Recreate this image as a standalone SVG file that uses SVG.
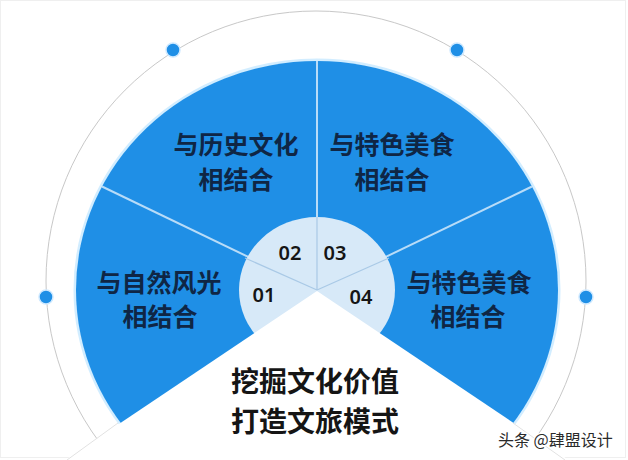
<svg xmlns="http://www.w3.org/2000/svg" width="628" height="460" viewBox="0 0 628 460">
<style>
.lbl{font-family:"Noto Sans CJK SC","Noto Sans",sans-serif;font-size:25px;font-weight:700;fill:#0f2645;text-anchor:middle}
.num{font-family:"Noto Sans","Noto Sans CJK SC",sans-serif;font-size:20px;font-weight:600;fill:#151515;text-anchor:middle}
.ctr{font-family:"Noto Sans CJK SC","Noto Sans",sans-serif;font-size:28px;font-weight:700;fill:#151515;text-anchor:middle}
.wm{font-family:"Noto Sans CJK SC","Noto Sans",sans-serif;font-size:16px;fill:#2a2a2a;stroke:#ffffff;stroke-width:3;paint-order:stroke;stroke-linejoin:round}
.dot{fill:#1f8fe6;stroke:#cfe9ff;stroke-width:1.5}
.div{stroke:#b8dcf8;stroke-width:2;fill:none}
.idiv{stroke:#a9c9e6;stroke-width:1.2;fill:none}
</style>
<rect x="0" y="0" width="628" height="460" fill="#ffffff"/>
<rect x="0.5" y="0.5" width="625" height="457" fill="none" stroke="#efefef" stroke-width="1"/>
<g id="ring">
<circle cx="316" cy="281" r="270" fill="none" stroke="#c8c8c8" stroke-width="1"/>
</g>
<g id="fan">
<ellipse cx="317" cy="290" rx="242" ry="230" fill="none" stroke="#bfe6ff" stroke-width="3" opacity="0.7"/>
<ellipse cx="317" cy="290" rx="241" ry="229" fill="#1f8fe6"/>
</g>
<g id="connectors">
<line class="div" x1="317" y1="290" x2="317" y2="61"/>
<line class="div" x1="317" y1="290" x2="102" y2="186.5"/>
<line class="div" x1="317" y1="290" x2="532" y2="186.5"/>
</g>
<g id="hub">
<ellipse cx="317" cy="290" rx="78" ry="73" fill="#d7e9f8"/>
<line class="idiv" x1="317" y1="290" x2="317" y2="217"/>
<line class="idiv" x1="317" y1="290" x2="245" y2="258"/>
<line class="idiv" x1="317" y1="290" x2="389" y2="258"/>
</g>
<g id="center">
<polygon points="317,291 -100,571 734,571" fill="#ffffff"/>
<line x1="118" y1="423" x2="67" y2="460" stroke="#e2e2e2" stroke-width="1"/>
<line x1="513" y1="423" x2="565" y2="460" stroke="#e2e2e2" stroke-width="1"/>
<text class="ctr" x="315" y="392">挖掘文化价值</text>
<text class="ctr" x="315" y="432">打造文旅模式</text>
</g>
<g id="dots">
<circle class="dot" cx="173" cy="50" r="7"/>
<circle class="dot" cx="457" cy="50" r="7"/>
<circle class="dot" cx="46" cy="297" r="7"/>
<circle class="dot" cx="586" cy="297" r="7"/>
</g>
<g id="node01">
<text class="lbl" x="159" y="292">与自然风光</text>
<text class="lbl" x="160" y="326">相结合</text>
<text class="num" x="264" y="302">01</text>
</g>
<g id="node02">
<text class="lbl" x="236" y="154">与历史文化</text>
<text class="lbl" x="236" y="189">相结合</text>
<text class="num" x="290" y="260">02</text>
</g>
<g id="node03">
<text class="lbl" x="392" y="154">与特色美食</text>
<text class="lbl" x="392" y="189">相结合</text>
<text class="num" x="335" y="260">03</text>
</g>
<g id="node04">
<text class="lbl" x="469" y="292">与特色美食</text>
<text class="lbl" x="468" y="326">相结合</text>
<text class="num" x="361" y="304">04</text>
</g>
<text class="wm" x="498" y="446">头条 @肆盟设计</text>
</svg>
